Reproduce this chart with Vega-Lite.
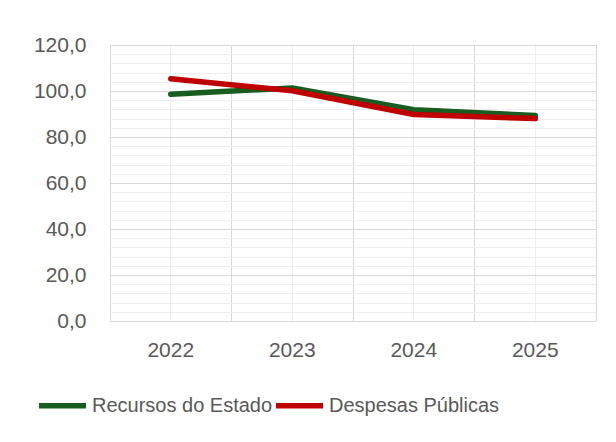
{
  "$schema": "https://vega.github.io/schema/vega-lite/v6.json",
  "width": 486,
  "height": 276,
  "autosize": {"type": "none"},
  "padding": {"left": 110, "top": 45, "right": 20, "bottom": 121},
  "background": "white",
  "config": {
    "locale": {"number": {"decimal": ",", "thousands": ".", "grouping": [3], "currency": ["", ""]}},
    "view": {"stroke": "#d9d9d9", "strokeWidth": 1},
    "font": "Liberation Sans",
    "axis": {"labelFont": "Liberation Sans", "labelColor": "#595959", "labelFontSize": 21, "domain": false, "ticks": false, "title": null}
  },
  "data": {
    "values": [
      {"ano": "2022", "serie": "Recursos do Estado", "valor": 98.6},
      {"ano": "2023", "serie": "Recursos do Estado", "valor": 101.3},
      {"ano": "2024", "serie": "Recursos do Estado", "valor": 91.9},
      {"ano": "2025", "serie": "Recursos do Estado", "valor": 89.3},
      {"ano": "2022", "serie": "Despesas Públicas", "valor": 105.3},
      {"ano": "2023", "serie": "Despesas Públicas", "valor": 100.1},
      {"ano": "2024", "serie": "Despesas Públicas", "valor": 89.8},
      {"ano": "2025", "serie": "Despesas Públicas", "valor": 88.0}
    ]
  },
  "resolve": {"axis": {"x": "independent", "y": "independent"}},
  "layer": [
    {
      "mark": {"type": "line", "opacity": 0},
      "encoding": {
        "x": {"field": "ano", "type": "ordinal", "bandPosition": 0.5,
          "scale": {"type": "band", "paddingInner": 0, "paddingOuter": 0},
          "axis": {"orient": "top", "labels": false, "bandPosition": 0, "grid": true, "gridColor": "#d9d9d9", "gridWidth": 1}},
        "y": {"field": "valor", "type": "quantitative",
          "scale": {"domain": [0, 120], "nice": false, "zero": true},
          "axis": {"orient": "right", "labels": false, "grid": true, "gridColor": "#eeeeee", "gridWidth": 1,
            "values": [4, 8, 12, 16, 24, 28, 32, 36, 44, 48, 52, 56, 64, 68, 72, 76, 84, 88, 92, 96, 104, 108, 112, 116]}},
        "detail": {"field": "serie"}
      }
    },
    {
      "transform": [{"filter": "datum.serie === 'Recursos do Estado'"}],
      "mark": {"type": "line", "strokeWidth": 5.5, "strokeCap": "round", "strokeJoin": "round"},
      "encoding": {
        "x": {"field": "ano", "type": "ordinal", "bandPosition": 0.5,
          "axis": {"orient": "bottom", "labelAngle": 0, "labelPadding": 18, "bandPosition": 0.5, "grid": true, "gridColor": "#eeeeee", "gridWidth": 1}},
        "y": {"field": "valor", "type": "quantitative",
          "axis": {"orient": "left", "values": [0, 20, 40, 60, 80, 100, 120], "format": ".1f", "labelPadding": 24, "grid": true, "gridColor": "#d9d9d9", "gridWidth": 1}},
        "color": {"field": "serie", "type": "nominal",
          "scale": {"domain": ["Recursos do Estado", "Despesas Públicas"], "range": ["#185c1f", "#c00000"]},
          "legend": {"orient": "none", "direction": "horizontal", "legendX": -74, "legendY": 334, "title": null,
            "symbolType": "stroke", "symbolSize": 2209, "symbolStrokeWidth": 5.5, "labelFontSize": 20, "labelFont": "Liberation Sans",
            "labelColor": "#595959", "labelOffset": 3, "columnPadding": -9, "labelLimit": 0}}
      }
    },
    {
      "transform": [{"filter": "datum.serie === 'Despesas Públicas'"}],
      "mark": {"type": "line", "strokeWidth": 5.5, "strokeCap": "round", "strokeJoin": "round"},
      "encoding": {
        "x": {"field": "ano", "type": "ordinal", "bandPosition": 0.5, "axis": null},
        "y": {"field": "valor", "type": "quantitative", "axis": null},
        "color": {"field": "serie", "type": "nominal"}
      }
    }
  ]
}
